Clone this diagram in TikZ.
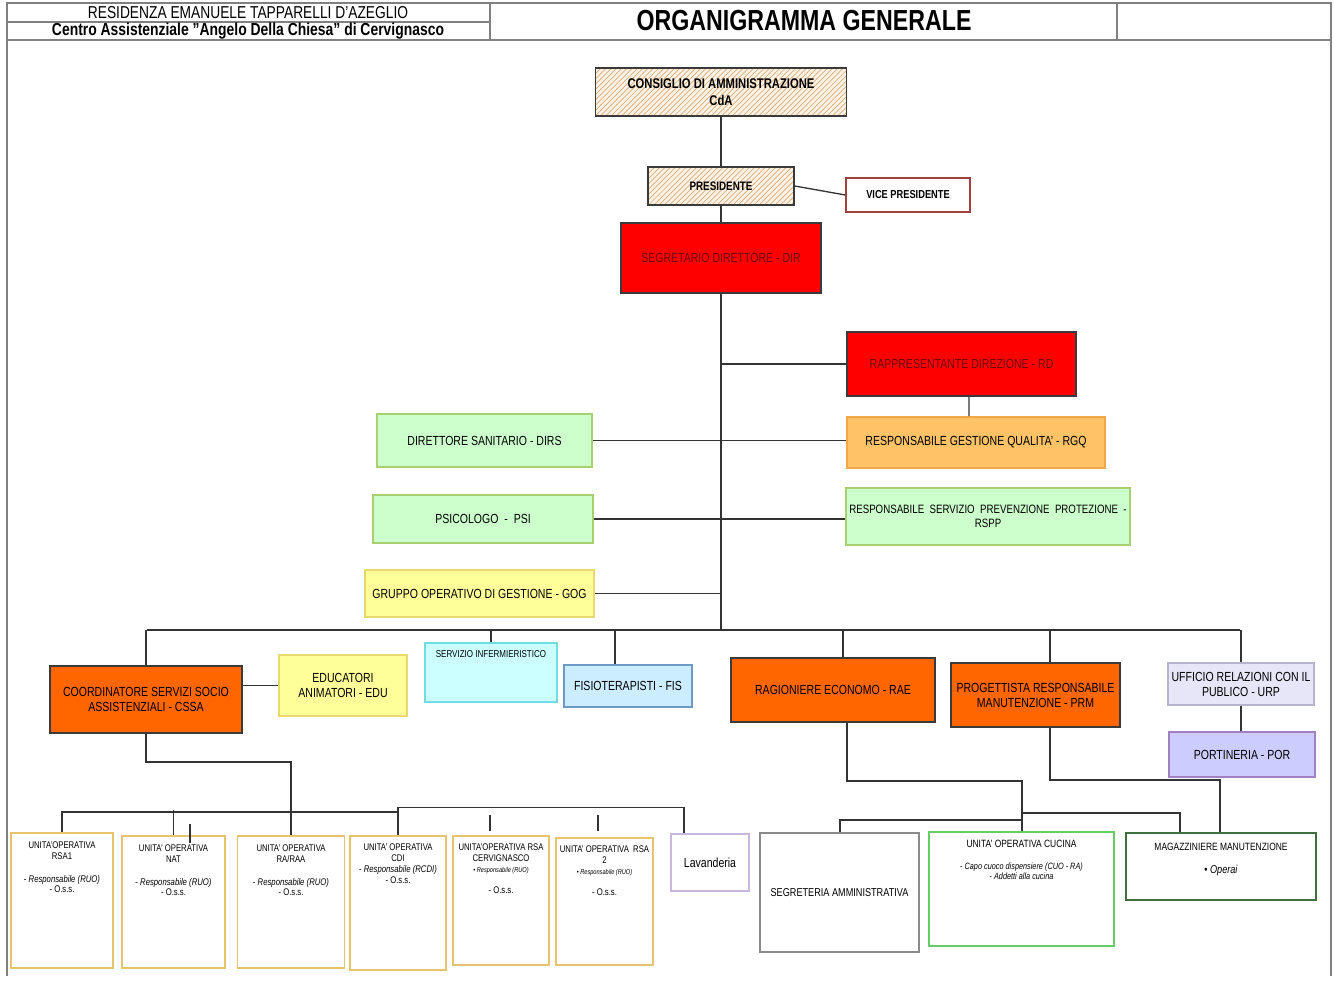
\documentclass[tikz,border=0pt]{standalone}
\usepackage{fontspec}
\setmainfont{Liberation Sans}[FakeStretch=0.8]
\usetikzlibrary{positioning,patterns}

\definecolor{hatchbg}{HTML}{FBF2E4}
\definecolor{hatchln}{HTML}{D9AC7E}
\definecolor{darkline}{HTML}{3A3A3A}
\definecolor{dirred}{HTML}{FF0000}
\definecolor{redtext}{HTML}{6E0808}
\definecolor{vicered}{HTML}{A04040}
\definecolor{qorange}{HTML}{FFC266}
\definecolor{qline}{HTML}{F0A848}
\definecolor{grnfill}{HTML}{CCFFCC}
\definecolor{grnline}{HTML}{A8D070}
\definecolor{yelfill}{HTML}{FFFF99}
\definecolor{yelline}{HTML}{E8D870}
\definecolor{inffill}{HTML}{CCFFFF}
\definecolor{infline}{HTML}{70DDE0}
\definecolor{fisfill}{HTML}{CCECFF}
\definecolor{fisline}{HTML}{6F9AC8}
\definecolor{orng}{HTML}{FF6600}
\definecolor{urpfill}{HTML}{E6E6F8}
\definecolor{urpline}{HTML}{B4B4CC}
\definecolor{porfill}{HTML}{CCCCFF}
\definecolor{porline}{HTML}{A080C0}
\definecolor{unitline}{HTML}{E8C36E}
\definecolor{lavline}{HTML}{C8B8E0}
\definecolor{segline}{HTML}{8A8A8A}
\definecolor{cucline}{HTML}{66CC66}
\definecolor{magline}{HTML}{3F6F3F}
\definecolor{linkgray}{HTML}{333333}
\definecolor{framegray}{HTML}{808080}

\begin{document}
\begin{tikzpicture}[x=0.02cm,y=-0.02cm,line width=0.7pt,
  sz/.style 2 args={minimum width=#1*0.02cm,minimum height=#2*0.02cm},
  box/.style={draw=#1,line width=0.9pt,inner sep=1pt,align=center,font=\fontsize{7.5}{8.5}\selectfont},
  box/.default=darkline,
  hatched/.style={box,preaction={fill=hatchbg},pattern=north east lines,pattern color=hatchln,font=\bfseries\fontsize{7}{8.5}\selectfont},
  redbox/.style={box,fill=dirred,text=redtext},
  orangebox/.style={box,fill=orng},
  greenbox/.style={box=grnline,fill=grnfill},
  yellowbox/.style={box=yelline,fill=yelfill},
  unitbox/.style={box=unitline,fill=white},
  unittext/.style={inner sep=1pt,align=center,font=\fontsize{5.5}{6.2}\selectfont},
  link/.style={draw=linkgray,line width=0.75pt},
  frame/.style={draw=framegray,line width=1.1pt}]
\useasboundingbox (0,0) rectangle (1334,980);

% header strip
\draw[frame] (7,976) -- (7,3) -- (1331,3) -- (1331,976);
\draw[frame] (7,40) -- (1331,40);
\draw[frame] (490,3) -- (490,40);
\draw[frame] (1117,3) -- (1117,40);
\draw[frame] (7,22) -- (490,22);
\node[font=\fontsize{9.8}{11}\selectfont] (hdra) at (248,12.5) {RESIDENZA EMANUELE TAPPARELLI D'AZEGLIO};
\node[font=\bfseries\fontsize{9.9}{11}\selectfont] (hdrb) at (248,31) {Centro Assistenziale {\char34}Angelo Della Chiesa{\char34} di Cervignasco};
\node[font=\bfseries\fontsize{16.5}{18}\selectfont] (title) at (804,21) {ORGANIGRAMMA GENERALE};

% top of the chart
\node[hatched,sz={251}{48},font=\bfseries\fontsize{8}{9.5}\selectfont] (cda) at (721,92) {CONSIGLIO DI AMMINISTRAZIONE\\CdA};
\node[hatched,sz={146}{38}] (pres) at (721,186) {PRESIDENTE};
\node[box=vicered,fill=white,sz={124}{34},font=\bfseries\fontsize{6.6}{8}\selectfont] (vice) at (908,195) {VICE PRESIDENTE};
\node[redbox,sz={200}{70}] (dir) at (721,258) {SEGRETARIO DIRETTORE - DIR};
\node[redbox,sz={229}{64}] (rd) at (961.5,364) {RAPPRESENTANTE DIREZIONE - RD};
\node[box=qline,fill=qorange,sz={258}{51}] (rgq) at (976,442.5) {RESPONSABILE GESTIONE QUALITA' - RGQ};
\node[greenbox,sz={215}{53}] (dirs) at (484.5,440.5) {DIRETTORE SANITARIO - DIRS};
\node[greenbox,sz={220}{48}] (psi) at (483,519) {PSICOLOGO\ \ -\ \ PSI};
\node[greenbox,sz={284}{57},font=\fontsize{6.9}{8}\selectfont] (rspp) at (988,516.5) {RESPONSABILE\ \ SERVIZIO\ \ PREVENZIONE\ \ PROTEZIONE\ \ -\\RSPP};
\node[yellowbox,sz={229}{47}] (gog) at (479.5,593.5) {GRUPPO OPERATIVO DI GESTIONE - GOG};

% spine and side links
\coordinate (bus) at (721,630);
\draw[link] (cda.south) -- (pres.north);
\draw[link] (pres.south) -- (dir.north);
\draw[link] (dir.south) -- (bus);
\draw[link] (pres.east) -- (vice.west);
\draw[link] (rd.west) -- (rd.west -| bus);
\draw[link] ([xshift=0.15cm]rd.south) -- ([xshift=-0.14cm]rgq.north);
\draw[link] (dirs.east) -- (dirs.east -| rgq.west);
\draw[link] (psi.east) -- (psi.east -| rspp.west);
\draw[link] (gog.east) -- (gog.east -| bus);

% second level
\node[orangebox,sz={192}{67}] (cssa) at (146,699.5) {COORDINATORE SERVIZI SOCIO\\ASSISTENZIALI - CSSA};
\node[yellowbox,sz={128}{61}] (edu) at (343,685.5) {EDUCATORI\\ANIMATORI - EDU};
\node[box=infline,fill=inffill,sz={132}{59}] (inf) at (491,672.5) {};
\node[inner sep=1pt,font=\fontsize{5.7}{6.5}\selectfont,below=3.5pt of inf.north] (inft) {SERVIZIO INFERMIERISTICO};
\node[box=fisline,fill=fisfill,sz={128}{42}] (fis) at (628,686) {FISIOTERAPISTI - FIS};
\node[orangebox,sz={204}{64}] (rae) at (833,690) {RAGIONIERE ECONOMO - RAE};
\node[orangebox,sz={169}{64}] (prm) at (1035.5,695) {PROGETTISTA RESPONSABILE\\MANUTENZIONE - PRM};
\node[box=urpline,fill=urpfill,sz={146}{42}] (urp) at (1241,684) {UFFICIO RELAZIONI CON IL\\PUBLICO - URP};
\node[box=porline,fill=porfill,sz={146}{45}] (por) at (1242,754.5) {PORTINERIA - POR};

% horizontal bus
\coordinate (busL) at (147,630);
\coordinate (busR) at (1240,630);
\coordinate (bfis) at (615,630);
\coordinate (brae) at (843,630);
\coordinate (bprm) at (1050,630);
\draw[link] (busL) -- (busR);
\draw[link] (cssa.north) -- (cssa.north |- busL);
\draw[link] (inf.north) -- (inf.north |- busL);
\draw[link] (bfis) -- (bfis |- fis.north);
\draw[link] (brae) -- (brae |- rae.north);
\draw[link] (bprm) -- (bprm |- prm.north);
\draw[link] (urp.north) -- (urp.north |- busR);
\draw[link] (edu.west -| cssa.east) -- (edu.west);
\draw[link] (urp.south) -- (urp.south |- por.north);

% operative units under CSSA
\node[unitbox,sz={102}{135}] (rsa1) at (62,900.5) {};
\node[unittext,below=4pt of rsa1.north] (rsa1t) {UNITA'OPERATIVA\\RSA1\\[6.8pt]- \textit{Responsabile (RUO)}\\- O.s.s.};
\node[unitbox,sz={103}{132}] (nat) at (173.5,902) {};
\node[unittext,below=4pt of nat.north] (natt) {UNITA' OPERATIVA\\NAT\\[6.8pt]- \textit{Responsabile (RUO)}\\- O.s.s.};
\node[unitbox,sz={107}{132}] (raa) at (291,902) {};
\node[unittext,below=4pt of raa.north] (raat) {UNITA' OPERATIVA\\RA/RAA\\[6.8pt]- \textit{Responsabile (RUO)}\\- O.s.s.};
\node[unitbox,sz={96}{134}] (cdi) at (398,903) {};
\node[unittext,below=3.5pt of cdi.north] (cdit) {UNITA' OPERATIVA\\CDI\\- \textit{Responsabile (RCDI)}\\- O.s.s.};
\node[unitbox,sz={96}{129}] (rsac) at (501,900.5) {};
\node[unittext,below=3.5pt of rsac.north] (rsact) {UNITA'OPERATIVA RSA\\CERVIGNASCO\\{\fontsize{4}{5}\selectfont\textbullet\ \textit{Responsabile (RUO)}}\\[6pt]- O.s.s.};
\node[unitbox,sz={97}{127}] (rsa2) at (604.5,901.5) {};
\node[unittext,below=3.5pt of rsa2.north] (rsa2t) {UNITA' OPERATIVA\ \ RSA\\2\\{\fontsize{4}{5}\selectfont\textbullet\ \textit{Responsabile (RUO)}}\\[6pt]- O.s.s.};
\node[box=lavline,fill=white,sz={78}{57}] (lav) at (710,862.5) {Lavanderia};

\coordinate (cssadrop) at (291,762);
\coordinate (ubus) at (0,812);
\coordinate (lavdrop) at (684,807.5);
\coordinate (stuba) at (490,815);
\coordinate (stubb) at (598,815);
\coordinate (strayn) at (190,824);
\draw[link] (cssa.south) |- (cssadrop) -- (raa.north);
\draw[link] (rsa1.north) -- (rsa1.north |- ubus) -| (cdi.north);
\draw[link] (nat.north) -- ([yshift=1pt]nat.north |- ubus);
\draw[link] (strayn) -- ++(0,19);
\draw[link] (cdi.north) -- (cdi.north |- lavdrop) -- (lavdrop) -- (lavdrop |- lav.north);
\draw[link] (stuba) -- ++(0,16);
\draw[link] (stubb) -- ++(0,16);

% units under RAE and PRM
\node[box=segline,fill=white,sz={159}{119},font=\fontsize{6.5}{7.5}\selectfont] (segr) at (839.5,892.5) {SEGRETERIA AMMINISTRATIVA};
\node[box=cucline,fill=white,sz={185}{114}] (cuc) at (1021.5,889) {};
\node[unittext,font=\fontsize{5.2}{6}\selectfont,below=3.5pt of cuc.north] (cuct) {{\fontsize{6}{7}\selectfont UNITA' OPERATIVA CUCINA}\\[6.5pt]- \textit{Capo cuoco dispensiere (CUO - RA)}\\- \textit{Addetti alla cucina}};
\node[box=magline,fill=white,sz={190}{67}] (mag) at (1221,866.5) {};
\node[unittext,font=\fontsize{6}{7}\selectfont,below=5pt of mag.north] (magt) {MAGAZZINIERE MANUTENZIONE\\[6pt]{\fontsize{6.5}{7.5}\selectfont\textbullet\ \textit{Operai}}};

\coordinate (raeb) at (847,781);
\coordinate (cucj) at (1022,781);
\coordinate (magj) at (1180,813);
\coordinate (segj) at (840,820);
\coordinate (prmb) at (1050,780);
\coordinate (prmj) at (1220,780);
\draw[link] (raeb |- rae.south) -- (raeb) -- (cucj) -- (cucj |- cuc.north);
\draw[link] (cucj |- magj) -- (magj) -- (magj |- mag.north);
\draw[link] (cucj |- segj) -- (segj) -- (segj |- segr.north);
\draw[link] (prmb |- prm.south) -- (prmb) -- (prmj) -- (prmj |- mag.north);
\end{tikzpicture}
\end{document}
